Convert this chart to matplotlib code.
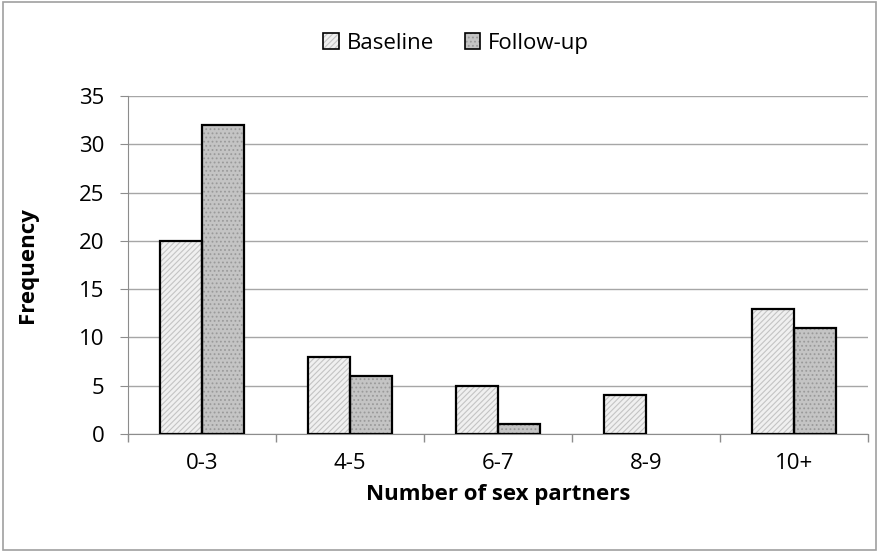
import matplotlib
matplotlib.use("Agg")
import matplotlib.pyplot as plt
import numpy as np
from matplotlib.patches import Rectangle
from matplotlib.legend_handler import HandlerTuple

categories = ["0-3", "4-5", "6-7", "8-9", "10+"]
baseline = [20, 8, 5, 4, 13]
followup = [32, 6, 1, 0, 11]
series_names = ["Baseline", "Follow-up"]
yticks = [0, 5, 10, 15, 20, 25, 30, 35]

plt.rcParams['font.family'] = ['Open Sans', 'DejaVu Sans']
plt.rcParams['hatch.linewidth'] = 0.8

fig = plt.figure(figsize=(8.79, 5.52), dpi=100)
fig.patches.append(Rectangle((0.003, 0.003), 0.994, 0.994, transform=fig.transFigure,
                             fill=False, edgecolor='#a0a0a0', linewidth=1.2))
ax = fig.add_axes([0.1456, 0.2138, 0.842, 0.612])

x = np.arange(len(categories))
w = 0.285
specs = [(baseline, -w/2, '#f0f0f0', '#c4c4c4', '//////'),
         (followup, w/2, '#c4c4c4', '#9a9a9a', '....')]
handles = []
for (vals, off, fc, hc, hatch), name in zip(specs, series_names):
    ax.bar(x + off, vals, w, color=fc, edgecolor=hc, hatch=hatch, linewidth=0, zorder=2)
    ax.bar(x + off, [v if v > 0 else np.nan for v in vals], w, fill=False,
           edgecolor='black', linewidth=1.6, zorder=3)
    h_fill = Rectangle((0, 0), 1, 1, facecolor=fc, edgecolor=hc, hatch=hatch, linewidth=0)
    h_edge = Rectangle((0, 0), 1, 1, fill=False, edgecolor='black', linewidth=1.2)
    handles.append((h_fill, h_edge))

ax.set_xlim(-0.5, len(categories) - 0.5)
ax.set_ylim(0, 35)
ax.set_yticks(yticks)
ax.set_xticks(x)
ax.set_xticklabels(categories)
ax.set_xticks(np.arange(len(categories) + 1) - 0.5, minor=True)
ax.tick_params(axis='x', which='major', length=0, pad=14, labelsize=16)
ax.tick_params(axis='x', which='minor', length=6, color='#8c8c8c', width=1)
ax.tick_params(axis='y', length=6, color='#8c8c8c', labelsize=16, pad=11)
ax.yaxis.grid(True, color='#a6a6a6', linewidth=1, zorder=0)
ax.set_axisbelow(True)
for s in ['top', 'right']:
    ax.spines[s].set_visible(False)
ax.spines['left'].set_color('#8c8c8c')
ax.spines['bottom'].set_color('#8c8c8c')

ax.set_xlabel("Number of sex partners", fontsize=16, fontweight='bold', labelpad=7)
ax.set_ylabel("Frequency", fontsize=16, fontweight='bold')
ax.yaxis.set_label_coords(-0.122, 0.5)

fig.legend(handles, series_names, loc='center', bbox_to_anchor=(0.519, 0.922), ncol=2,
           frameon=False, fontsize=16, handlelength=0.7, handleheight=0.7,
           handletextpad=0.35, columnspacing=1.4,
           handler_map={tuple: HandlerTuple(ndivide=1, pad=0)})

fig.savefig("out.png", dpi=100)
